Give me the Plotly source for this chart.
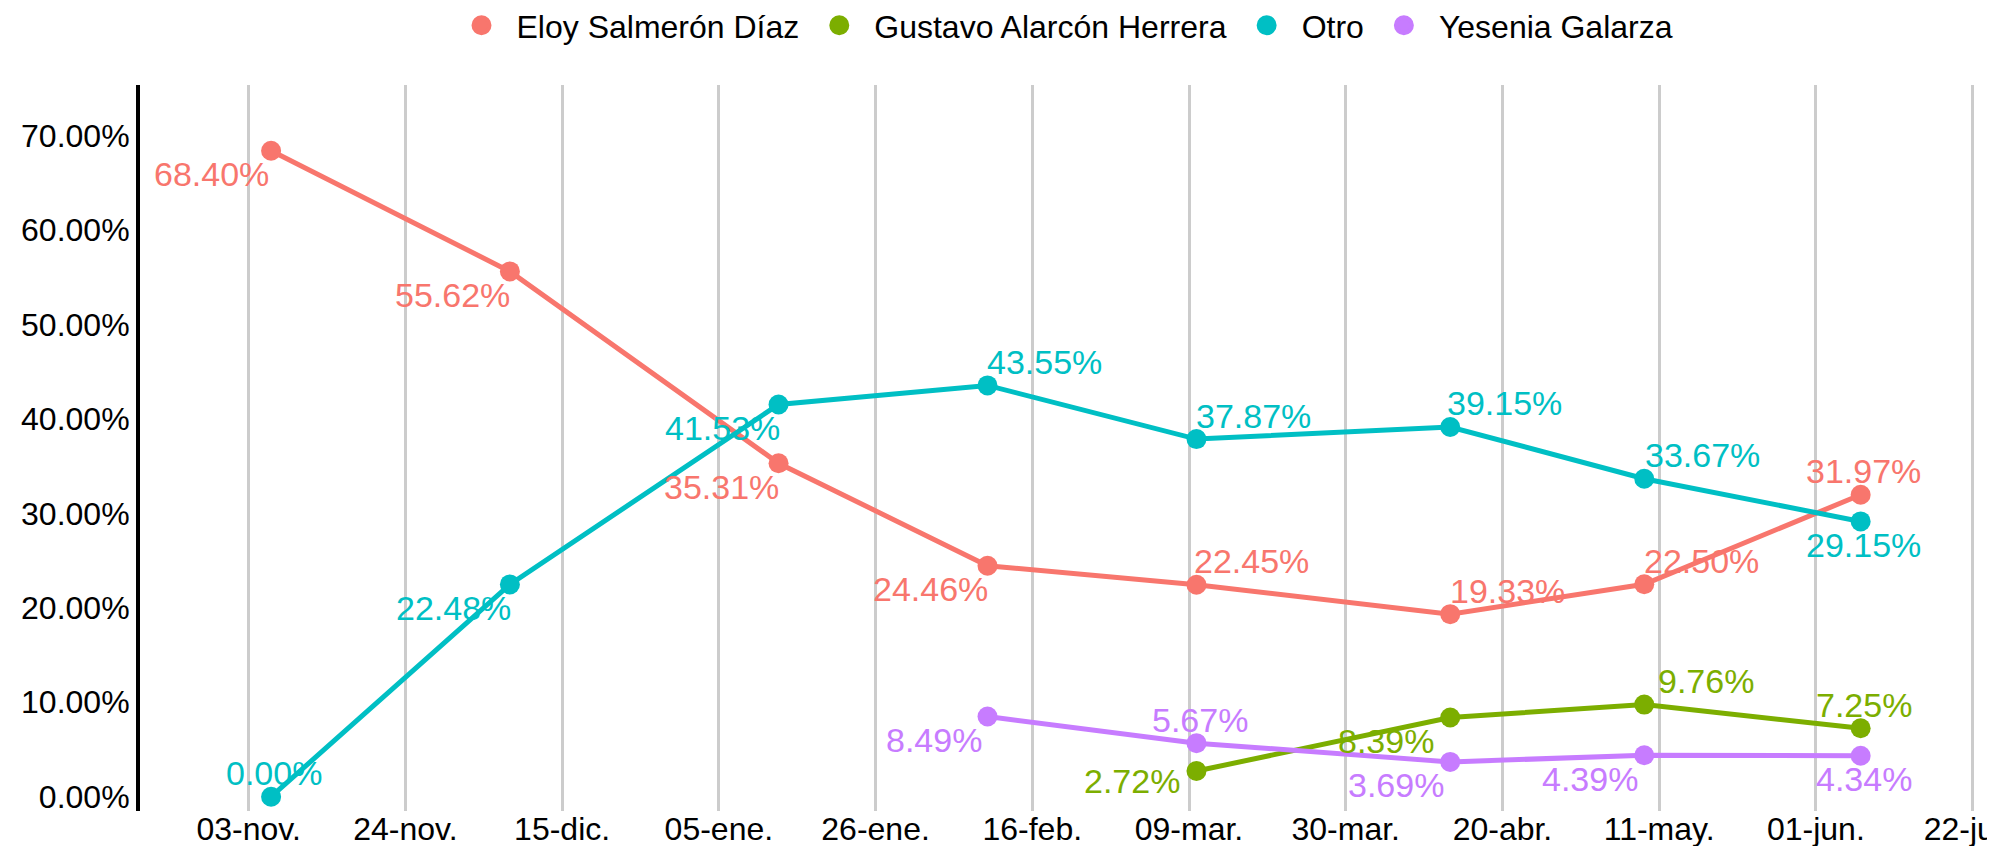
import plotly.graph_objects as go

# ---- data ----
fechas = ["2020-11-06", "2020-12-08", "2021-01-13", "2021-02-10",
          "2021-03-10", "2021-04-13", "2021-05-09", "2021-06-07"]
eloy = [68.40, 55.62, 35.31, 24.46, 22.45, 19.33, 22.50, 31.97]
otro = [0.00, 22.48, 41.53, 43.55, 37.87, 39.15, 33.67, 29.15]
gustavo_fechas = ["2021-03-10", "2021-04-13", "2021-05-09", "2021-06-07"]
gustavo = [2.72, 8.39, 9.76, 7.25]
yesenia_fechas = ["2021-02-10", "2021-03-10", "2021-04-13", "2021-05-09", "2021-06-07"]
yesenia = [8.49, 5.67, 3.69, 4.39, 4.34]

tick_fechas = ["2020-11-03", "2020-11-24", "2020-12-15", "2021-01-05", "2021-01-26",
               "2021-02-16", "2021-03-09", "2021-03-30", "2021-04-20", "2021-05-11",
               "2021-06-01", "2021-06-22"]
tick_labels = ["03-nov.", "24-nov.", "15-dic.", "05-ene.", "26-ene.", "16-feb.",
               "09-mar.", "30-mar.", "20-abr.", "11-may.", "01-jun.", "22-jun."]
y_ticks = [0, 10, 20, 30, 40, 50, 60, 70]
y_tick_labels = [f"{v:.2f}%" for v in y_ticks]

# ---- style: label placement (vertical side, horizontal side, pixel nudges) ----
eloy_lbl = [("b", "l", 0, 0), ("b", "l", 2, 0), ("b", "l", 2, 0), ("b", "l", 2, 0),
            ("t", "r", -4, 0), ("t", "r", -2, 0), ("t", "r", -2, 0), ("t", "c", 3, 0)]
gustavo_lbl = [("b", "l", -14, 14), ("b", "l", -14, 0), ("t", "r", 12, 0), ("t", "c", 3, 0)]
otro_lbl = [("t", "c", 3, 0), ("b", "l", 3, 0), ("b", "l", 3, 0), ("t", "r", -3, 0),
            ("t", "r", -2, 0), ("t", "r", -5, 0), ("t", "r", -1, 0), ("b", "c", 3, 0)]
yesenia_lbl = [("b", "l", -4, 0), ("t", "c", 4, 0), ("b", "l", -4, 0),
               ("b", "l", -4, 0), ("b", "c", 3, 0)]

FONT = "Liberation Sans, Arial, sans-serif"
series = [
    ("Eloy Salmerón Díaz", fechas, eloy, "#F8766D", eloy_lbl),
    ("Gustavo Alarcón Herrera", gustavo_fechas, gustavo, "#7CAE00", gustavo_lbl),
    ("Otro", fechas, otro, "#00BFC4", otro_lbl),
    ("Yesenia Galarza", yesenia_fechas, yesenia, "#C77CFF", yesenia_lbl),
]

fig = go.Figure()
annotations = []
for name, xs, ys, color, lbl in series:
    fig.add_trace(go.Scatter(
        x=xs, y=ys, mode="lines+markers", name=name, showlegend=False,
        legendgroup=name,
        line=dict(color=color, width=5),
        marker=dict(color=color, size=20),
        cliponaxis=False,
    ))
    for xv, yv, (vp, hp, dx, dy) in zip(xs, ys, lbl):
        annotations.append(dict(
            x=xv, y=yv, xref="x", yref="y", text=f"{yv:.2f}%", showarrow=False,
            xanchor={"l": "right", "r": "left", "c": "center"}[hp],
            yanchor="bottom" if vp == "t" else "top",
            xshift=dx, yshift=(2.5 if vp == "t" else -2.5) + dy,
            font=dict(family=FONT, size=34, color=color),
        ))
for name, xs, ys, color, lbl in series:
    fig.add_trace(go.Scatter(
        x=[None], y=[None], mode="markers", name=name, legendgroup=name,
        marker=dict(color=color, size=16, line=dict(color=color, width=4)),
    ))

fig.update_layout(
    width=1987, height=838,
    margin=dict(l=132, r=10, t=77, b=35, autoexpand=False),
    paper_bgcolor="white", plot_bgcolor="white",
    font=dict(family=FONT, size=32, color="black"),
    annotations=annotations,
    legend=dict(orientation="h", x=0.5, xanchor="center", y=1.082, yanchor="middle",
                font=dict(family=FONT, size=32, color="black"),
                itemwidth=60, itemsizing="trace"),
    xaxis=dict(
        type="date",
        range=["2020-10-19 10:26", "2021-06-23 15:52"],
        tickmode="array", tickvals=tick_fechas, ticktext=tick_labels,
        showgrid=True, gridcolor="#cccccc", gridwidth=3,
        showline=False, zeroline=False, ticks="",
        ticklabelstandoff=-4, ticklabeloverflow="allow",
        tickfont=dict(family=FONT, size=32, color="black"),
    ),
    yaxis=dict(
        range=[-1.51, 75.36],
        tickmode="array", tickvals=y_ticks, ticktext=y_tick_labels,
        showgrid=False, zeroline=False,
        showline=True, linecolor="black", linewidth=4, ticks="",
        tickfont=dict(family=FONT, size=32, color="black"),
    ),
)

fig.write_html("out.html")
